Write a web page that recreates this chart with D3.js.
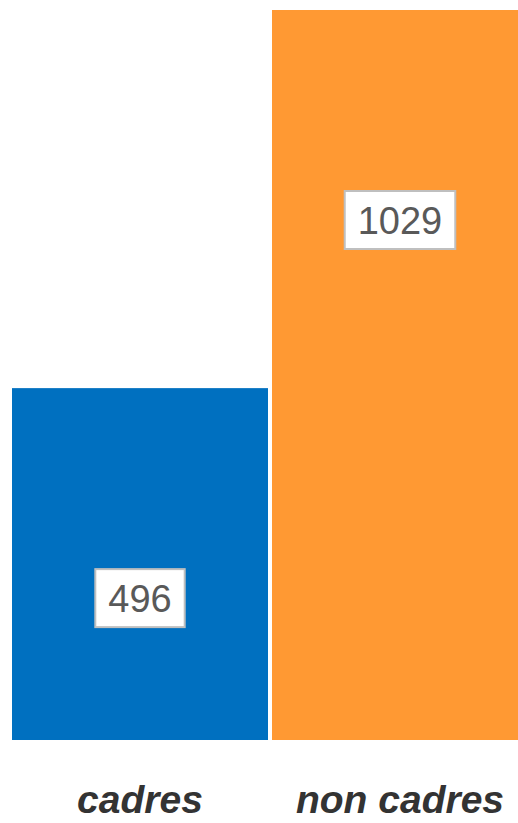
<!DOCTYPE html>
<html>
<head>
<meta charset="utf-8">
<script src="https://cdn.jsdelivr.net/npm/d3@7"></script>
<style>
  html, body { margin: 0; padding: 0; background: #fff; }
  svg { display: block; }
</style>
</head>
<body>
<svg id="chart" width="518" height="823"></svg>
<script>
const categories = ["cadres", "non cadres"];
const values = [496, 1029];
const colors = ["#0070C0", "#FF9933"];

const W = 518, H = 823;
const svg = d3.select("#chart");

const x = d3.scaleBand()
  .domain(categories)
  .range([12, 528])
  .paddingInner(4 / 260)
  .paddingOuter(0);

const y = d3.scaleLinear()
  .domain([0, 1029])
  .range([740, 10]);

// bars
svg.selectAll("rect.bar")
  .data(categories)
  .enter().append("rect")
  .attr("class", "bar")
  .attr("x", d => x(d))
  .attr("width", x.bandwidth())
  .attr("y", (d, i) => y(values[i]))
  .attr("height", (d, i) => y(0) - y(values[i]))
  .attr("fill", (d, i) => colors[i]);

// value labels with boxes
const valFont = 38;
const labelG = svg.selectAll("g.vlabel")
  .data(categories)
  .enter().append("g")
  .attr("class", "vlabel");

labelG.each(function(d, i) {
  const g = d3.select(this);
  const cx = x(d) + x.bandwidth() / 2;
  const cy = y(values[i]) + 210;
  const t = g.append("text")
    .attr("x", cx)
    .attr("y", cy + valFont * 0.716 / 2)
    .attr("text-anchor", "middle")
    .attr("font-family", "Liberation Sans, Arial, sans-serif")
    .attr("font-size", valFont)
    .attr("fill", "#595959")
    .text(values[i]);
  const bw = t.node().getComputedTextLength() + 26;
  const bh = 58;
  g.insert("rect", "text")
    .attr("x", cx - bw / 2)
    .attr("y", cy - bh / 2)
    .attr("width", bw)
    .attr("height", bh)
    .attr("fill", "#fff")
    .attr("stroke", "#BFBFBF")
    .attr("stroke-width", 2);
});

// category axis labels
svg.selectAll("text.cat")
  .data(categories)
  .enter().append("text")
  .attr("class", "cat")
  .attr("x", d => x(d) + x.bandwidth() / 2)
  .attr("y", 813)
  .attr("text-anchor", "middle")
  .attr("font-family", "Liberation Sans, Arial, sans-serif")
  .attr("font-size", 39)
  .attr("font-weight", "bold")
  .attr("font-style", "italic")
  .attr("fill", "#333333")
  .text(d => d);
</script>
</body>
</html>
